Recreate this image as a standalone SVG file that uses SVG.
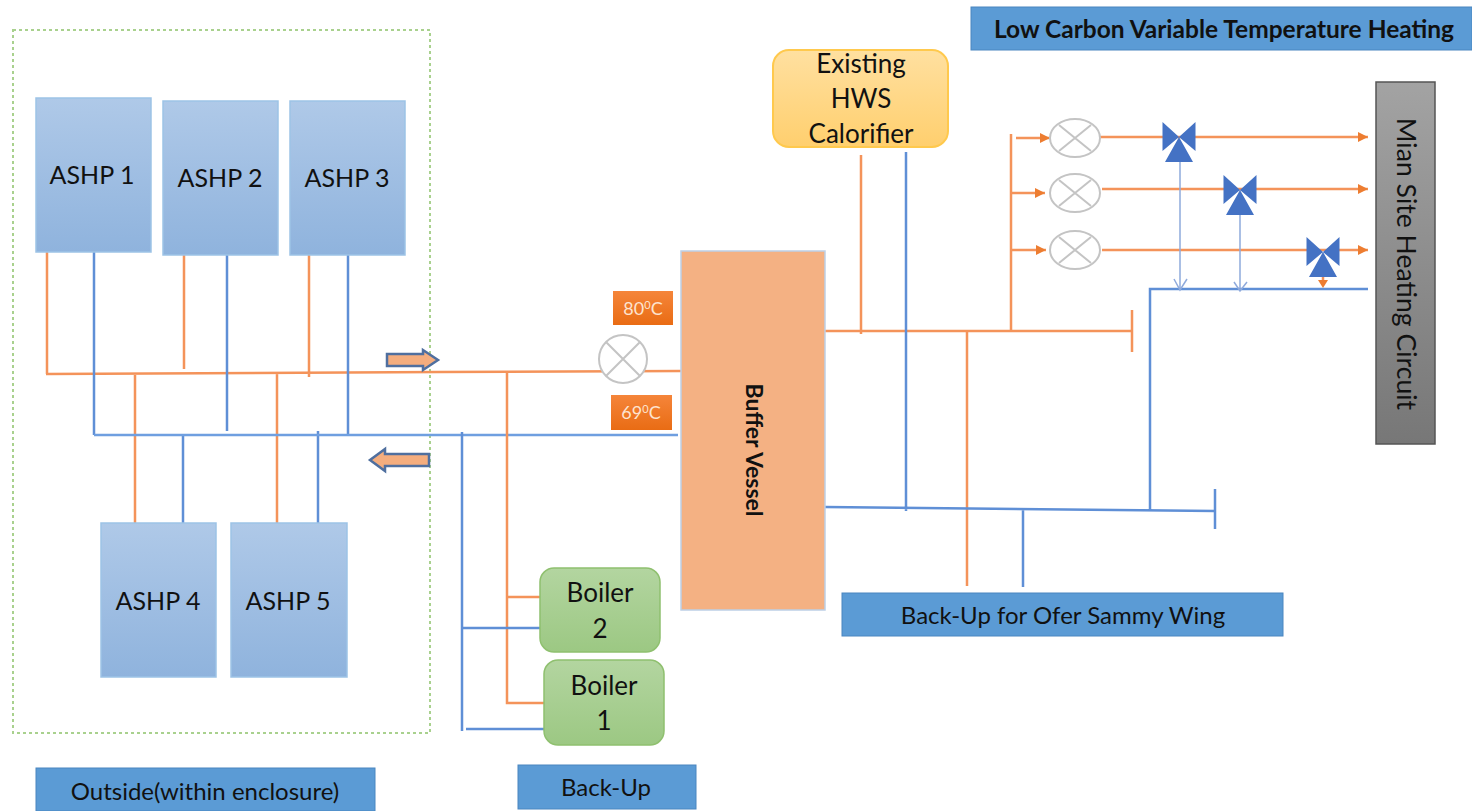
<svg xmlns="http://www.w3.org/2000/svg" width="1472" height="811" viewBox="0 0 1472 811">
<defs>
<linearGradient id="blue" x1="0" y1="0" x2="0" y2="1"><stop offset="0" stop-color="#afc9e8"/><stop offset="1" stop-color="#8fb3dd"/></linearGradient>
<linearGradient id="green" x1="0" y1="0" x2="0" y2="1"><stop offset="0" stop-color="#b3d5a0"/><stop offset="1" stop-color="#9cc883"/></linearGradient>
<linearGradient id="yellow" x1="0" y1="0" x2="0" y2="1"><stop offset="0" stop-color="#ffe0a0"/><stop offset="1" stop-color="#ffcf6e"/></linearGradient>
<linearGradient id="grey" x1="0" y1="0" x2="0" y2="1"><stop offset="0" stop-color="#a3a3a3"/><stop offset="1" stop-color="#777"/></linearGradient>
<linearGradient id="orange" x1="0" y1="0" x2="0" y2="1"><stop offset="0" stop-color="#f5853a"/><stop offset="1" stop-color="#e96c14"/></linearGradient>
<marker id="ao" markerUnits="userSpaceOnUse" markerWidth="11" markerHeight="12" refX="10" refY="6" orient="auto"><path d="M0 1 L10 6 L0 11Z" fill="#ed7d31"/></marker>
<g id="valve"><path d="M-16.500 -15 L0 0 L-16.500 14Z M16.500 -15 L0 0 L16.500 14Z M0 0 L-14 25 L14 25Z" fill="#4472c4"/></g>
<g id="meter"><ellipse rx="25" ry="19" fill="#fff" stroke="#c4c4c4" stroke-width="2"/><path d="M-16 -13 L16 13 M-16 13 L16 -13" stroke="#c4c4c4" stroke-width="2"/></g>
</defs>
<style>
text{font-family:Lato,"Open Sans","Liberation Sans",sans-serif;fill:#111}
.n{stroke:#9dc3e6;stroke-width:1.5;fill:url(#blue)}
.t{font-size:26px;text-anchor:middle}
.a{font-size:25px;text-anchor:middle}
.b{fill:#5b9bd5;stroke:#4a86c0;stroke-width:1}
.l{font-size:24px;text-anchor:middle}
.o{fill:none;stroke:#f4935a;stroke-width:2.5}
.u{fill:none;stroke:#5f8fd6;stroke-width:2.5}
.tmp{fill:url(#orange)}
.tt{fill:#fde3cf;font-size:18px;text-anchor:middle}
.g{fill:url(#green);stroke:#8fc06f;stroke-width:1.5}
.ar{fill:#f4ad7e;stroke:#4f6f9f;stroke-width:2.5}
</style>
<rect id="enclosure" x="13" y="30" width="417" height="703" fill="none" stroke="#a9d18e" stroke-width="2" stroke-dasharray="3 3"/>
<g id="connectors">
<path class="o" d="M47 251V374M184 254V369M309 254V377M135 374V523M277 374V523M46 374L440 372L681 371"/>
<path class="u" d="M94 251V435M227 254V431M348 254V435M183 435V523M318 431V523"/>
<path class="u" d="M94 435H678" style="stroke:#6f9fe0"/>
<path class="o" d="M507 372V703H544M507 597H540"/>
<path class="u" d="M462 432V731M462 628H540M466 729H544"/>
<path class="o" d="M825 331H1132M1132 310V352M861 155V334M967 331V586M1011 134V331"/>
<path class="u" d="M825 507L1215 511M1215 489V529M906 152V511M1023 509V587M1150 510V289H1368"/>
<path class="o" d="M1016 138H1050" stroke-width="1.5" marker-end="url(#ao)"/>
<path class="o" d="M1011 193L1045 193" marker-end="url(#ao)"/>
<path class="o" d="M1011 250H1046" marker-end="url(#ao)"/>
<path class="o" d="M1100 137H1368" marker-end="url(#ao)"/>
<path class="o" d="M1102 189H1368" marker-end="url(#ao)"/>
<path class="o" d="M1102 250H1368" marker-end="url(#ao)"/>
<path fill="none" stroke="#8faadc" stroke-width="1.5" d="M1180 160V290M1240 214V290"/>
<path fill="none" stroke="#8faadc" stroke-width="1.5" d="M1174 279L1180 290L1187 279M1234 282L1240 291L1247 282"/>
<path class="o" d="M1323 277V284" stroke-width="1.5"/><path d="M1318 280H1328L1323 288Z" fill="#ed7d31"/>
</g>
<g id="ashp1"><rect class="n" x="36" y="98" width="115" height="154"/><text class="a" x="92" y="184">ASHP 1</text></g>
<g id="ashp2"><rect class="n" x="163" y="101" width="115" height="154"/><text class="a" x="220" y="187">ASHP 2</text></g>
<g id="ashp3"><rect class="n" x="290" y="101" width="115" height="154"/><text class="a" x="347" y="187">ASHP 3</text></g>
<g id="ashp4"><rect class="n" x="101" y="523" width="115" height="154"/><text class="a" x="158" y="610">ASHP 4</text></g>
<g id="ashp5"><rect class="n" x="231" y="523" width="116" height="154"/><text class="a" x="288" y="610">ASHP 5</text></g>
<g id="flow-arrows">
<path class="ar" d="M387 354H423V350L438 360L423 370V366H387Z"/>
<path class="ar" d="M429 454H385V449L370 460L385 471V466H429Z" stroke-width="1.5"/>
</g>
<g id="meter-main"><ellipse cx="623" cy="359" rx="24" ry="24" fill="#fff" stroke="#c4c4c4" stroke-width="2"/><path d="M606 342L640 376M640 342L606 376" stroke="#c4c4c4" stroke-width="2"/></g>
<g id="temp80"><rect class="tmp" x="613" y="291" width="60" height="34"/><text class="tt" x="643" y="315">80<tspan font-size="11" dy="-6">0</tspan><tspan dy="6">C</tspan></text></g>
<g id="temp69"><rect class="tmp" x="611" y="395" width="61" height="35"/><text class="tt" x="641" y="419">69<tspan font-size="11" dy="-6">0</tspan><tspan dy="6">C</tspan></text></g>
<g id="buffer-vessel"><rect x="681" y="251" width="144" height="359" fill="#f4b183" stroke="#bdd0e6" stroke-width="1.5"/><text font-size="23" font-weight="700" text-anchor="middle" transform="translate(746 450) rotate(90)">Buffer Vessel</text></g>
<g id="hws"><rect x="773" y="50" width="175" height="97" rx="16" fill="url(#yellow)" stroke="#ffc94d" stroke-width="2"/><text class="t" x="861" y="73">Existing</text><text class="t" x="861" y="108">HWS</text><text class="t" x="861" y="143">Calorifier</text></g>
<g id="boiler2"><rect class="g" x="540" y="568" width="120" height="84" rx="14"/><text class="t" x="600" y="602">Boiler</text><text class="t" x="600" y="638">2</text></g>
<g id="boiler1"><rect class="g" x="544" y="660" width="120" height="85" rx="14"/><text class="t" x="604" y="695">Boiler</text><text class="t" x="604" y="730">1</text></g>
<g id="m1"><use href="#meter" x="1075" y="138"/></g>
<g id="m2"><use href="#meter" x="1075" y="193"/></g>
<g id="m3"><use href="#meter" x="1075" y="250"/></g>
<g id="v1"><use href="#valve" x="1179" y="137"/></g>
<g id="v2"><use href="#valve" x="1240" y="190"/></g>
<g id="v3"><use href="#valve" x="1323" y="252"/></g>
<g id="main-site"><rect x="1376" y="82" width="59" height="362" fill="url(#grey)" stroke="#555" stroke-width="1.5"/><text font-size="26.600" text-anchor="middle" transform="translate(1397 264) rotate(90)">Mian Site Heating Circuit</text></g>
<g id="title"><rect class="b" x="971" y="7" width="501" height="43"/><text font-size="24.500" font-weight="700" text-anchor="middle" x="1224" y="38">Low Carbon Variable Temperature Heating</text></g>
<g id="backup-wing"><rect class="b" x="842" y="593" width="441" height="43"/><text class="l" x="1063" y="624">Back-Up for Ofer Sammy Wing</text></g>
<g id="backup"><rect class="b" x="518" y="765" width="178" height="44"/><text class="l" x="606" y="796">Back-Up</text></g>
<g id="outside"><rect class="b" x="36" y="768" width="339" height="43"/><text class="l" x="205" y="800">Outside(within enclosure)</text></g>
</svg>
